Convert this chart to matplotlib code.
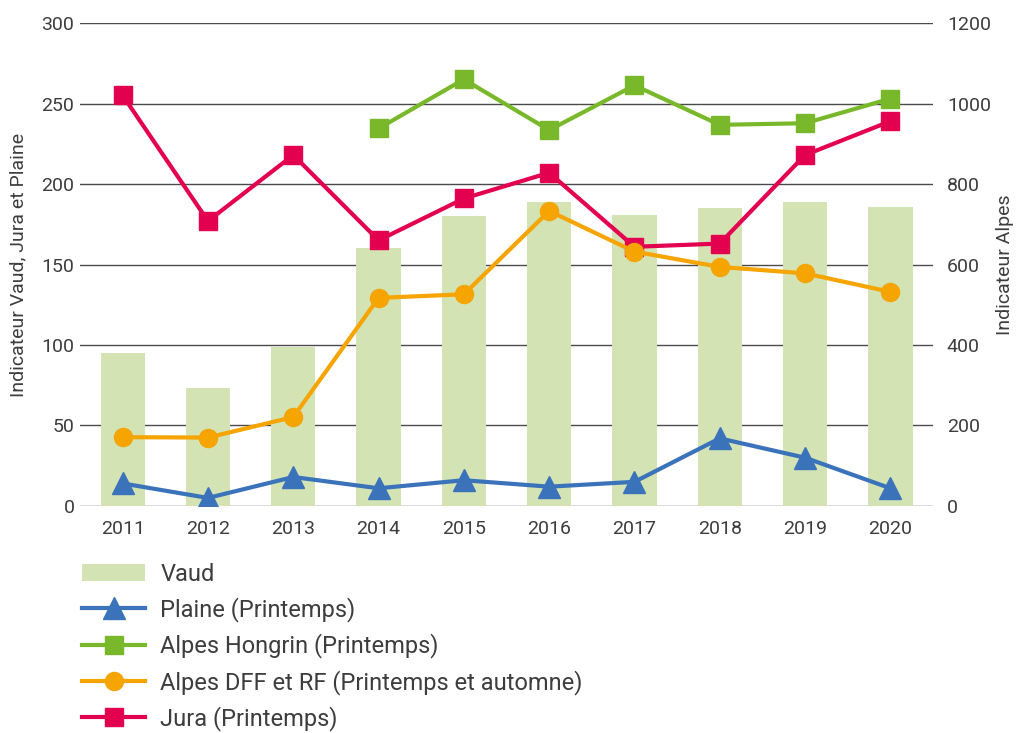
import numpy as np
import matplotlib
matplotlib.use("Agg")
import matplotlib.pyplot as plt

plt.rcParams['font.family'] = ['Roboto', 'DejaVu Sans']

# Données
annees = ['2011', '2012', '2013', '2014', '2015', '2016', '2017', '2018', '2019', '2020']
vaud = [95, 73, 99, 160, 180, 189, 181, 185, 189, 186]
plaine = [14, 5, 18, 11, 16, 12, 15, 42, 30, 11]
jura = [255, 177, 218, 165, 191, 207, 161, 163, 218, 239]
# axe de droite (Alpes)
hongrin = [np.nan, np.nan, np.nan, 938, 1060, 934, 1045, 947, 951, 1012]
dff = [171, 170, 221, 517, 526, 733, 632, 594, 578, 532]

gris = '#3d3d3d'
x = np.arange(len(annees))

fig = plt.figure(figsize=(10.17, 7.33), dpi=100)
ax = fig.add_axes([0.0787, 0.3097, 0.8387, 0.6589])
ax2 = ax.twinx()

ax.bar(x, vaud, width=0.52, color='#d3e3b4', label='Vaud', zorder=2)
ax.plot(x, plaine, color='#3b73bb', lw=3, marker='^', ms=16, label='Plaine (Printemps)', zorder=3)
ax.plot(x, jura, color='#e3004f', lw=3, marker='s', ms=13, label='Jura (Printemps)', zorder=3)
ax2.plot(x, hongrin, color='#78b82a', lw=3, marker='s', ms=13, label='Alpes Hongrin (Printemps)')
ax2.plot(x, dff, color='#f5a400', lw=3, marker='o', ms=13, label='Alpes DFF et RF (Printemps et automne)')

ax.set_xlim(-0.5, len(annees) - 0.5)
ax.set_ylim(0, 300)
ax2.set_ylim(0, 1200)
ax.set_yticks(range(0, 301, 50))
ax2.set_yticks(range(0, 1201, 200))
ax.set_xticks(x)
ax.set_xticklabels(annees)
ax.yaxis.grid(True, color='#4a4a4a', lw=1, zorder=1)
ax.set_axisbelow(True)

for a in (ax, ax2):
    for s in a.spines.values():
        s.set_visible(False)
    a.tick_params(length=0, labelsize=14, labelcolor=gris)
ax.tick_params(axis='y', pad=4)
ax.tick_params(axis='x', pad=10)
ax2.tick_params(axis='y', pad=10)

ax.set_ylabel('Indicateur Vaud, Jura et Plaine', fontsize=14, color=gris, labelpad=10)
ax2.set_ylabel('Indicateur Alpes', fontsize=14, color=gris, labelpad=4)

h1, l1 = ax.get_legend_handles_labels()
h2, l2 = ax2.get_legend_handles_labels()
d = dict(zip(l1 + l2, h1 + h2))
ordre = ['Vaud', 'Plaine (Printemps)', 'Alpes Hongrin (Printemps)',
         'Alpes DFF et RF (Printemps et automne)', 'Jura (Printemps)']
leg = fig.legend([d[k] for k in ordre], ordre, loc='upper left',
                 bbox_to_anchor=(0.081, 0.232), frameon=False, fontsize=17,
                 handlelength=2.65, labelspacing=0.48, handletextpad=0.65,
                 borderpad=0, borderaxespad=0)
for t in leg.get_texts():
    t.set_color(gris)

fig.savefig('out.png', dpi=100)
